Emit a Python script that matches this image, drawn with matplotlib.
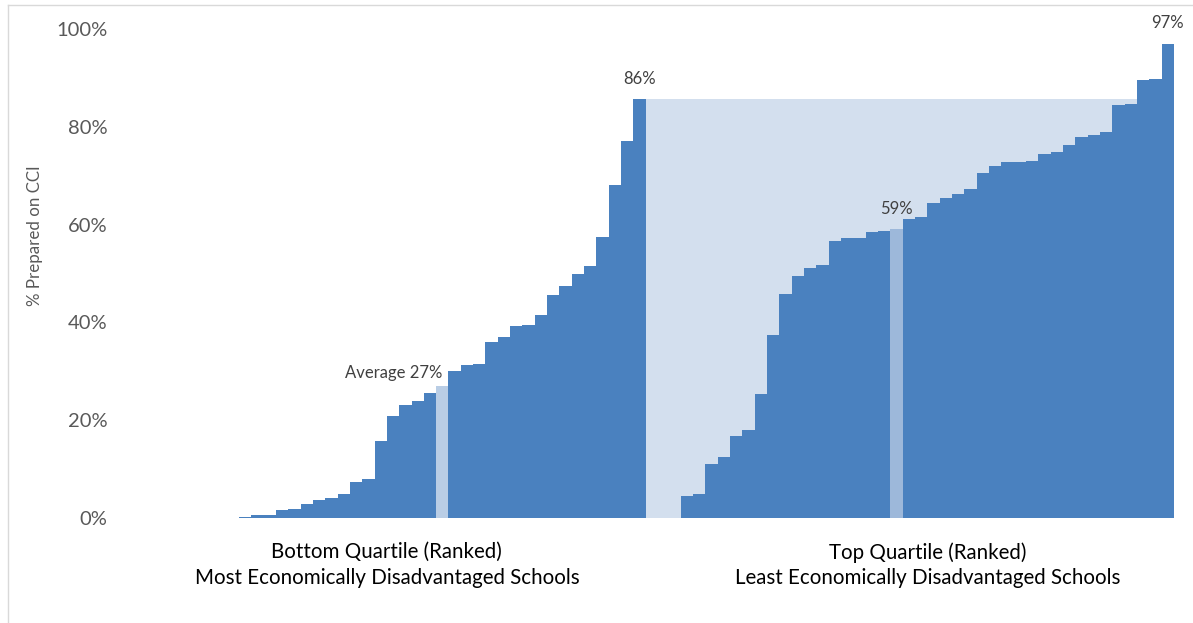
import numpy as np
import matplotlib
matplotlib.use("Agg")
import matplotlib.pyplot as plt
from matplotlib.lines import Line2D
from matplotlib.transforms import blended_transform_factory

plt.rcParams['font.family'] = ['Lato', 'DejaVu Sans']

# bottom quartile, ranked (schools at 0% shown as empty slots)
bottom_vals = [0, 0, 0, 0, 0, 0, 0, 0, 0,
               0.3, 0.6, 0.7, 1.6, 1.8, 2.9, 3.6, 4.0, 5.0, 7.4, 8.0,
               15.8, 20.9, 23.2, 24.0, 25.6,
               26.9,   # average
               30.1, 31.2, 31.5, 35.9, 37.0, 39.2, 39.5, 41.6, 45.7, 47.4,
               50.0, 51.5, 57.5, 68.0, 77.1, 85.7]
bottom_avg_idx = 25

# top quartile, ranked
top_vals = [4.6, 5.0, 11.1, 12.5, 16.7, 18.0, 25.3, 37.5, 45.8, 49.4,
            51.1, 51.7, 56.6, 57.3, 57.3, 58.5, 58.7,
            59.1,   # average
            61.1, 61.5, 64.4, 65.5, 66.2, 67.3, 70.6, 72.0, 72.7, 72.9,
            73.0, 74.4, 74.8, 76.2, 78.0, 78.3, 78.9, 84.4, 84.7, 89.6,
            89.8, 97.0]
top_avg_idx = 17

group_labels = ["Bottom Quartile (Ranked)\nMost Economically Disadvantaged Schools",
                "Top Quartile (Ranked)\nLeast Economically Disadvantaged Schools"]

blue = '#4A81BF'
shade = '#D3DFEE'
light_left = '#B9CDE5'
light_right = '#9DB8DA'
txt_gray = '#595959'

bottom = np.array(bottom_vals) / 100
top = np.array(top_vals) / 100
gap = 2.85
x_bot = np.arange(len(bottom))
x_top = len(bottom) + gap + np.arange(len(top))

fig = plt.figure(figsize=(11.93, 6.23), dpi=100)
ax = fig.add_axes([120 / 1193, 105 / 623, 1060 / 1193, 489 / 623])

# shaded gap: from the top of the bottom quartile across to where the top quartile passes it
peak = bottom.max()
x_end = x_top[np.argmax(top > peak)]
ax.fill_between([len(bottom), x_end], 0, peak, color=shade, lw=0, zorder=1)

col_b = [blue] * len(bottom)
col_b[bottom_avg_idx] = light_left
col_t = [blue] * len(top)
col_t[top_avg_idx] = light_right
ax.bar(x_bot, bottom, width=1.0, align='edge', color=col_b, lw=0, zorder=2)
ax.bar(x_top, top, width=1.0, align='edge', color=col_t, lw=0, zorder=2)

lab_kw = dict(fontsize=12, color='#404040', zorder=3)
ax.text(x_bot[bottom_avg_idx] + 0.5, bottom[bottom_avg_idx] + 0.012,
        f"Average {bottom_vals[bottom_avg_idx]:.0f}%", ha='right', va='bottom', **lab_kw)
ax.text(x_bot[-1] + 0.5, bottom[-1] + 0.025, f"{bottom_vals[-1]:.0f}%",
        ha='center', va='bottom', **lab_kw)
ax.text(x_top[top_avg_idx] + 0.5, top[top_avg_idx] + 0.025, f"{top_vals[top_avg_idx]:.0f}%",
        ha='center', va='bottom', **lab_kw)
ax.text(x_top[-1] + 0.5, top[-1] + 0.025, f"{top_vals[-1]:.0f}%",
        ha='center', va='bottom', **lab_kw)

ax.set_xlim(-0.65, x_top[-1] + 1 + 0.5)
ax.set_ylim(0, 1.0)
ax.set_yticks(np.arange(0, 1.01, 0.2))
ax.set_yticklabels([f"{int(v * 100)}%" for v in np.arange(0, 1.01, 0.2)])
ax.tick_params(axis='y', length=0, pad=9, labelsize=14.5, labelcolor=txt_gray)
ax.set_xticks([])
for s in ax.spines.values():
    s.set_visible(False)

trans = blended_transform_factory(ax.transData, ax.transAxes)
centers = [len(bottom) / 2, x_top[0] + len(top) / 2]
for cx, lab in zip(centers, group_labels):
    l1, l2 = lab.split("\n")
    ax.text(cx, -0.07, l1, transform=trans, ha='center', va='center', fontsize=14.8, color='black')
    ax.text(cx, -0.123, l2, transform=trans, ha='center', va='center', fontsize=14.8, color='black')

fig.text(35 / 1193, 1 - 236 / 623, "% Prepared on CCI", rotation=90, ha='center', va='center',
         fontsize=12.2, color=txt_gray)

# light border like the original chart frame
fig.add_artist(Line2D([8 / 1193, 8 / 1193], [0, 1 - 5 / 623], transform=fig.transFigure, color='#D9D9D9', lw=1))
fig.add_artist(Line2D([8 / 1193, 1], [1 - 5 / 623, 1 - 5 / 623], transform=fig.transFigure, color='#D9D9D9', lw=1))

fig.savefig("out.png", dpi=100)
